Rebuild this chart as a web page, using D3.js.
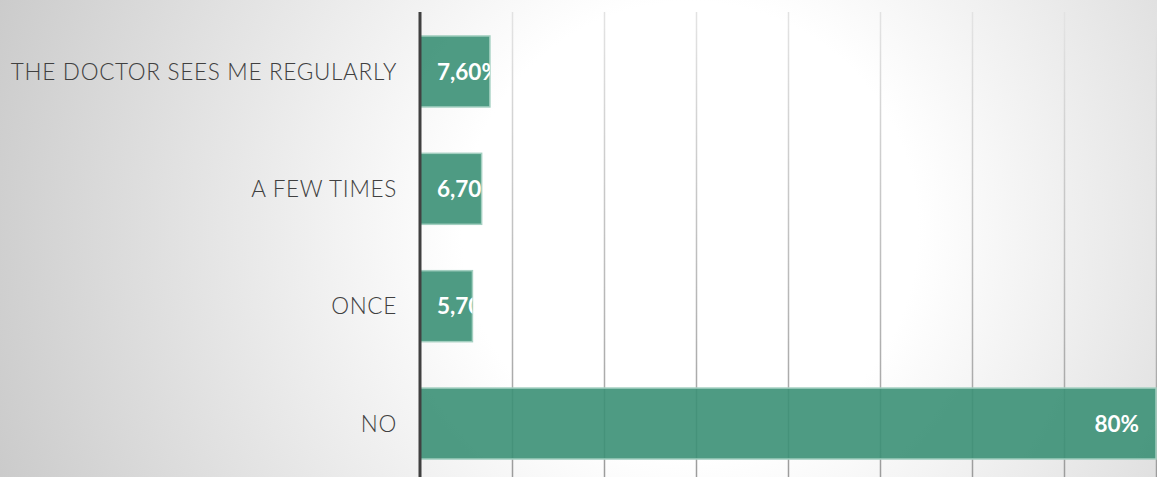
<!DOCTYPE html>
<html>
<head>
<meta charset="utf-8">
<script src="https://cdn.jsdelivr.net/npm/d3@7"></script>
<style>
  html, body { margin: 0; padding: 0; overflow: hidden; }
  svg { display: block; }
</style>
</head>
<body>
<script>
// Survey answers and their shares (percent)
const categories = ["THE DOCTOR SEES ME REGULARLY", "A FEW TIMES", "ONCE", "NO"];
const values = [7.6, 6.7, 5.7, 80];
const valueLabels = ["7,60%", "6,70%", "5,70%", "80%"];
const gridTicks = [10, 20, 30, 40, 50, 60, 70, 80];

const W = 1157, H = 477;
const margin = { top: 12.5, left: 420, right: 1, bottom: -5.5 };

const svg = d3.select("body").append("svg")
  .attr("width", W).attr("height", H);

const defs = svg.append("defs");

// soft radial backdrop: white centre fading to grey at the edges
const bg = defs.append("radialGradient")
  .attr("id", "bg").attr("gradientUnits", "userSpaceOnUse")
  .attr("cx", 690).attr("cy", 230).attr("r", 760);
bg.append("stop").attr("offset", 0).attr("stop-color", "#ffffff");
bg.append("stop").attr("offset", 0.3).attr("stop-color", "#ffffff");
bg.append("stop").attr("offset", 1).attr("stop-color", "#c8c8c8");

// gridlines darken toward the bottom
const gg = defs.append("linearGradient")
  .attr("id", "grid").attr("gradientUnits", "userSpaceOnUse")
  .attr("x1", 0).attr("y1", 12).attr("x2", 0).attr("y2", H);
gg.append("stop").attr("offset", 0).attr("stop-color", "#e2e2e2");
gg.append("stop").attr("offset", 1).attr("stop-color", "#9a9a9a");

svg.append("rect").attr("width", W).attr("height", H).attr("fill", "url(#bg)");

const x = d3.scaleLinear().domain([0, 80]).range([margin.left, W - margin.right]);
const y = d3.scaleBand().domain(categories)
  .range([margin.top, H - margin.bottom])
  .paddingInner(0.395).paddingOuter(0.2);

// vertical gridlines
svg.append("g")
  .attr("transform", "translate(0,12)")
  .call(d3.axisBottom(x).tickValues(gridTicks).tickSize(H - 12).tickFormat(""))
  .call(g => g.select(".domain").remove())
  .call(g => g.selectAll(".tick line")
    .attr("stroke", "url(#grid)").attr("stroke-width", 1.5));

const data = categories.map((c, i) => ({ c, v: values[i], label: valueLabels[i], i }));

// bars
const bars = svg.append("g").selectAll("g").data(data).join("g");

bars.append("clipPath").attr("id", d => "clip" + d.i)
  .append("rect")
  .attr("x", x(0)).attr("y", d => y(d.c))
  .attr("width", d => x(d.v) - x(0)).attr("height", y.bandwidth());

bars.append("rect")
  .attr("x", x(0)).attr("y", d => y(d.c))
  .attr("width", d => x(d.v) - x(0)).attr("height", y.bandwidth())
  .attr("fill", "#3b9075").attr("fill-opacity", 0.9)
  .attr("stroke", "#a3cfc0").attr("stroke-width", 1.5);

// value labels, clipped to their bar
bars.append("text")
  .attr("clip-path", d => `url(#clip${d.i})`)
  .attr("y", d => y(d.c) + y.bandwidth() / 2)
  .attr("dy", "0.36em")
  .attr("fill", "#ffffff")
  .attr("font-family", "Lato, 'Open Sans', sans-serif")
  .attr("font-weight", 700)
  .attr("font-size", 22.5)
  .text(d => d.label)
  .each(function (d) {
    const w = this.getComputedTextLength();
    const pad = 17;
    const endX = x(d.v) - pad;
    if (endX - w < x(0) + pad) {
      d3.select(this).attr("x", x(0) + pad).attr("text-anchor", "start");
    } else {
      d3.select(this).attr("x", endX).attr("text-anchor", "end");
    }
  });

// category labels
svg.append("g").selectAll("text").data(categories).join("text")
  .attr("x", 397)
  .attr("y", d => y(d) + y.bandwidth() / 2)
  .attr("dy", "0.36em")
  .attr("text-anchor", "end")
  .attr("fill", "#404040")
  .attr("font-family", "Lato, 'Open Sans', sans-serif")
  .attr("font-weight", 300)
  .attr("font-size", 22.5)
  .attr("letter-spacing", 0.7)
  .text(d => d);

// value axis baseline
svg.append("line")
  .attr("x1", x(0)).attr("x2", x(0))
  .attr("y1", 12).attr("y2", H)
  .attr("stroke", "#404040").attr("stroke-width", 3);
</script>
</body>
</html>
